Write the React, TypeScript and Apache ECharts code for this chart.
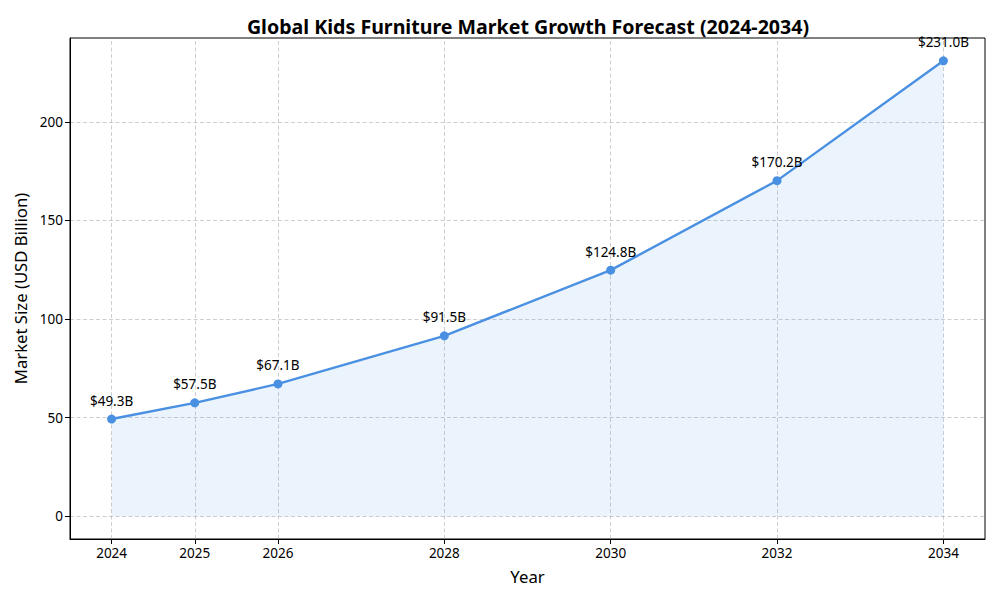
import React, { useEffect, useRef } from "react";
import * as echarts from "echarts";

const years = [2024, 2025, 2026, 2028, 2030, 2032, 2034];
const marketSize = [49.3, 57.5, 67.1, 91.5, 124.8, 170.2, 231.0];
const yTicks = [0, 50, 100, 150, 200];

const FONT = "Noto Sans";
const BLUE = "#4a90e2";
const GRID = "rgba(160,160,160,0.65)";

export default function App() {
  const ref = useRef<HTMLDivElement>(null);
  useEffect(() => {
    if (!ref.current) return;
    const chart = echarts.init(ref.current, null, { renderer: "svg" });
    const gridLines = [
      ...years.map((y) => ({ xAxis: y })),
      ...yTicks.map((v) => ({ yAxis: v })),
    ];
    chart.setOption({
      animation: false,
      backgroundColor: "#ffffff",
      textStyle: { fontFamily: FONT },
      title: {
        text: "Global Kids Furniture Market Growth Forecast (2024-2034)",
        left: 523,
        textAlign: "center",
        top: 11,
        textStyle: { fontFamily: FONT, fontWeight: "bold", fontSize: 19.6, color: "#000" },
      },
      grid: {
        left: 70,
        right: 15,
        top: 38,
        bottom: 61,
        show: true,
        borderColor: "#000",
        borderWidth: 1,
        backgroundColor: "transparent",
      },
      xAxis: {
        type: "value",
        min: 2023.5,
        max: 2034.5,
        name: "Year",
        nameLocation: "middle",
        nameGap: 29,
        nameTextStyle: { fontFamily: FONT, fontSize: 16.7, color: "#000" },
        axisLine: { show: true, onZero: false, lineStyle: { color: "#000", width: 1 } },
        axisTick: { show: true, length: 5, lineStyle: { color: "#000" }, customValues: years },
        axisLabel: {
          customValues: years,
          fontFamily: FONT,
          fontSize: 13.5,
          color: "#000",
          margin: 7,
          formatter: (v: number) => String(v),
        },
        splitLine: { show: false },
      },
      yAxis: {
        type: "value",
        min: -11.55,
        max: 242.55,
        name: "Market Size (USD Billion)",
        nameLocation: "middle",
        nameGap: 40,
        nameTextStyle: { fontFamily: FONT, fontSize: 16.7, color: "#000" },
        axisLine: { show: true, onZero: false, lineStyle: { color: "#000", width: 1 } },
        axisTick: { show: true, length: 5, lineStyle: { color: "#000" }, customValues: yTicks },
        axisLabel: {
          customValues: yTicks,
          fontFamily: FONT,
          fontSize: 13.5,
          color: "#000",
          margin: 7,
        },
        splitLine: { show: false },
      },
      series: [
        {
          type: "line",
          data: years.map((y, i) => [y, marketSize[i]]),
          symbol: "circle",
          symbolSize: 9,
          lineStyle: { color: BLUE, width: 2.4 },
          itemStyle: { color: BLUE },
          areaStyle: { color: "rgba(74,144,226,0.11)", opacity: 1, origin: 0 },
          label: {
            show: true,
            position: "top",
            distance: 7,
            fontFamily: FONT,
            fontSize: 13.5,
            color: "#000",
            formatter: (p: any) => `$${p.value[1].toFixed(1)}B`,
          },
          markLine: {
            silent: true,
            symbol: ["none", "none"],
            label: { show: false },
            lineStyle: { color: GRID, type: [4, 2.5], width: 0.8 },
            data: gridLines,
            z: 0,
          },
          z: 3,
        },
      ],
    });
    return () => chart.dispose();
  }, []);
  return <div ref={ref} style={{ width: 1000, height: 600, position: "absolute", left: 0, top: 0 }} />;
}
